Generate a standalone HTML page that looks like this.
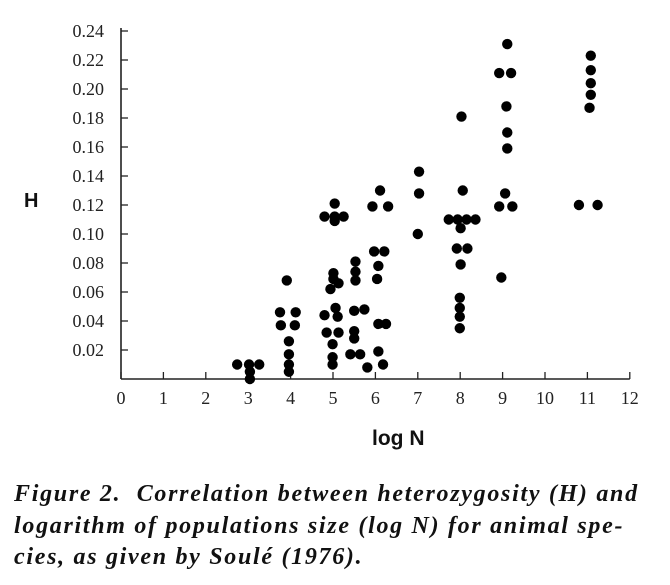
<!DOCTYPE html>
<html><head><meta charset="utf-8">
<style>
body{margin:0;background:#fff;width:670px;height:585px;overflow:hidden}
svg{position:absolute;left:0;top:0}
.cap{position:absolute;left:14px;top:479px;width:660px;font-family:"Liberation Serif",serif;font-style:italic;font-weight:bold;font-size:24px;letter-spacing:1.7px;line-height:31.5px;color:#111;white-space:nowrap}
</style></head><body>
<svg width="670" height="470">
<g id="g"></g>
</svg>
<div class="cap">Figure 2.&nbsp; Correlation between heterozygosity (H) and<br>logarithm of populations size (log N) for animal spe-<br>cies, as given by Soulé (1976).</div>
<script>
const xTicks=[0,1,2,3,4,5,6,7,8,9,10,11,12];
const yTicks=[0.02,0.04,0.06,0.08,0.10,0.12,0.14,0.16,0.18,0.20,0.22,0.24];
const logN=[2.74,3.02,3.26,3.04,3.04,
3.91,3.75,4.12,3.77,4.10,3.96,3.96,3.96,3.96,
5.04,4.80,5.04,5.25,5.04,5.01,5.01,5.13,4.94,5.06,4.80,5.11,4.85,5.13,4.99,4.99,4.99,
5.53,5.53,5.53,5.50,5.74,5.50,5.50,5.41,5.64,5.81,
6.11,5.93,6.30,5.97,6.21,6.07,6.04,6.07,6.25,6.07,6.18,
7.03,7.03,7.00,
8.03,8.06,7.73,7.94,8.15,8.36,8.01,7.92,8.17,8.01,7.99,7.99,7.99,7.99,
9.11,8.92,9.20,9.09,9.11,9.11,9.06,8.92,9.23,8.97,
11.08,11.08,11.08,11.08,11.05,10.80,11.24];
const H=[0.010,0.010,0.010,0.005,0.000,
0.068,0.046,0.046,0.037,0.037,0.026,0.017,0.010,0.005,
0.121,0.112,0.112,0.112,0.109,0.073,0.069,0.066,0.062,0.049,0.044,0.043,0.032,0.032,0.024,0.015,0.010,
0.081,0.074,0.068,0.047,0.048,0.033,0.028,0.017,0.017,0.008,
0.130,0.119,0.119,0.088,0.088,0.078,0.069,0.038,0.038,0.019,0.010,
0.143,0.128,0.100,
0.181,0.130,0.110,0.110,0.110,0.110,0.104,0.090,0.090,0.079,0.056,0.049,0.043,0.035,
0.231,0.211,0.211,0.188,0.170,0.159,0.128,0.119,0.119,0.070,
0.223,0.213,0.204,0.196,0.187,0.120,0.120];
const X=v=>121+v*42.4, Y=v=>379-v*1450;
const g=document.getElementById('g');
const NS='http://www.w3.org/2000/svg';
function mk(t,a,txt){const e=document.createElementNS(NS,t);for(const k in a)e.setAttribute(k,a[k]);if(txt!=null)e.textContent=txt;g.appendChild(e);return e;}
let e;
e=mk('line',{x1:X(0),y1:Y(0),x2:X(12),y2:Y(0),stroke:'#222','stroke-width':1.6});


e=mk('line',{x1:X(0),y1:Y(0),x2:X(0),y2:Y(0.24)-3,stroke:'#222','stroke-width':1.6});


xTicks.forEach(t=>{
 e=mk('line',{x1:X(t),y1:Y(0),x2:X(t),y2:Y(0)-7,stroke:'#222','stroke-width':1.3});
 
 
 e=mk('text',{x:X(t),y:Y(0)+25,'text-anchor':'middle','font-family':'Liberation Serif, serif','font-size':18,fill:'#222'},String(t));
 
 
});
yTicks.forEach(t=>{
 e=mk('line',{x1:X(0),y1:Y(t),x2:X(0)+7,y2:Y(t),stroke:'#222','stroke-width':1.3});
 
 
 e=mk('text',{x:104,y:Y(t)+6,'text-anchor':'end','font-family':'Liberation Serif, serif','font-size':18,fill:'#222'},t.toFixed(2));
 
 
});
logN.forEach((v,i)=>{
 e=mk('circle',{cx:X(v),cy:Y(H[i]),r:5.2,fill:'#000'});
 
 
});
e=mk('text',{x:24,y:207,'font-family':'Liberation Sans, sans-serif','font-size':20,'font-weight':'bold',fill:'#111'},'H');


e=mk('text',{x:372,y:445,'font-family':'Liberation Sans, sans-serif','font-size':21,'font-weight':'bold',fill:'#111'},'log N');


</script>
</body></html>
